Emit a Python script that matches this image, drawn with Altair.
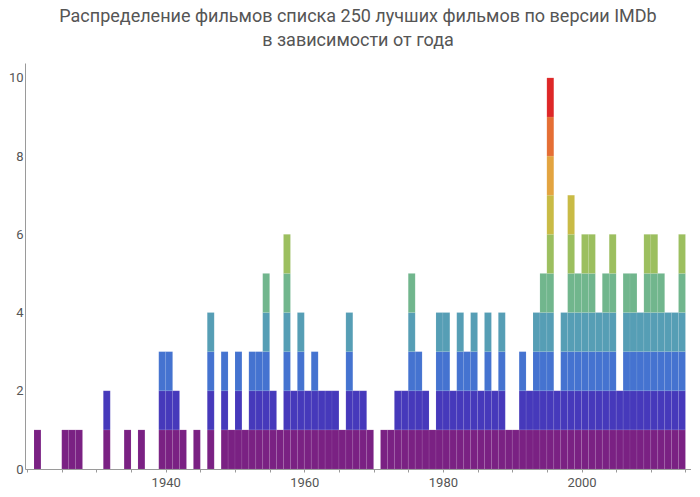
import altair as alt
import pandas as pd

years = [1921, 1925, 1926, 1927, 1931, 1934, 1936, 1939, 1940, 1941, 1942, 1944,
         1946, 1948, 1949, 1950, 1951, 1952, 1953, 1954, 1955, 1956, 1957, 1958,
         1959, 1960, 1961, 1962, 1963, 1964, 1965, 1966, 1967, 1968, 1969, 1971,
         1972, 1973, 1974, 1975, 1976, 1977, 1978, 1979, 1980, 1981, 1982, 1983,
         1984, 1985, 1986, 1987, 1988, 1989, 1990, 1991, 1992, 1993, 1994, 1995,
         1996, 1997, 1998, 1999, 2000, 2001, 2002, 2003, 2004, 2005, 2006, 2007,
         2008, 2009, 2010, 2011, 2012, 2013, 2014]
counts = [1, 1, 1, 1, 2, 1, 1, 3, 3, 2, 1, 1,
          4, 3, 1, 3, 1, 3, 3, 5, 2, 1, 6, 2,
          4, 2, 3, 2, 2, 2, 1, 4, 2, 2, 1, 1,
          1, 2, 2, 5, 3, 2, 1, 4, 4, 2, 4, 3,
          4, 2, 4, 2, 4, 1, 1, 3, 2, 4, 5, 10,
          2, 4, 7, 5, 6, 6, 4, 5, 6, 2, 5, 5,
          4, 6, 6, 5, 4, 4, 6]

levels = list(range(1, 11))
level_colors = ["#761a80", "#4133b9", "#3f6fcf", "#519bb3", "#6db48a",
                "#99bd5a", "#c8b940", "#e3a23a", "#e56a2e", "#dd2121"]

x_ticks = list(range(1920, 2016, 5))
y_ticks = list(range(0, 11))

title_lines = ["Распределение фильмов списка 250 лучших фильмов по версии IMDb",
               "в зависимости от года"]

rows = []
for yr, c in zip(years, counts):
    for k in range(1, c + 1):
        rows.append({"year": yr, "level": k})
df = pd.DataFrame(rows)

FONT = "Roboto"

chart = alt.Chart(df).transform_calculate(
    year2="datum.year + 1",
    lev0="datum.level - 1",
).mark_rect(opacity=0.97, stroke="#ffffff", strokeOpacity=0.15, strokeWidth=0.5).encode(
    x=alt.X("year:Q",
            scale=alt.Scale(domain=[1919.7, 2015.8], nice=False, zero=False),
            axis=alt.Axis(values=x_ticks, format="d", title=None, grid=False,
                          labelExpr="datum.value % 20 == 0 && datum.value >= 1940 ? datum.label : ''",
                          tickSize=3, labelPadding=4)),
    x2="year2:Q",
    y=alt.Y("lev0:Q",
            scale=alt.Scale(domain=[0, 10.38], nice=False),
            axis=alt.Axis(values=y_ticks, title=None, grid=False,
                          labelExpr="datum.value % 2 == 0 ? datum.label : ''",
                          tickSize=0, labelPadding=2)),
    y2="level:Q",
    color=alt.Color("level:O", scale=alt.Scale(domain=levels, range=level_colors), legend=None),
).properties(
    width=666,
    height=406,
    padding=0,
    title=alt.TitleParams(text=title_lines, fontSize=18, font=FONT, color="#555555",
                          fontWeight="normal", anchor="middle", lineHeight=24, offset=13),
).configure_view(stroke=None).configure_axis(
    domainColor="#9a9a9a", tickColor="#9a9a9a", labelColor="#555555",
    labelFont=FONT, labelFontSize=13,
)

chart.save("out.html", embed_options={"renderer": "svg", "actions": False})
